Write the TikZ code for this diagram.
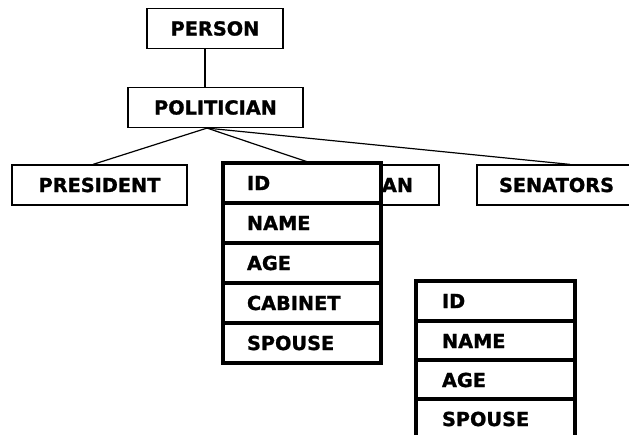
\documentclass[tikz,border=0pt]{standalone}
\usepackage{fontspec}
\setmainfont{DejaVu Sans}[BoldFeatures={FakeBold=1.2}]
\begin{document}
\begin{tikzpicture}[x=1pt,y=-1pt,
  every node/.style={font=\fontsize{19.3}{20}\selectfont\bfseries, text=black},
  classbox/.style={draw, line width=1.2pt, inner sep=0pt, minimum height=40pt},
  link/.style={line width=1.2pt},
  row/.style={draw, fill=white, line width=3.2pt, inner ysep=0pt,
              minimum height=40pt, align=left},
  rowA/.style={row, text width=110pt, inner xsep=24pt},
  rowB/.style={row, text width=107pt, inner xsep=26pt}]
\useasboundingbox (0,0) rectangle (629,435);

% class hierarchy
\node[classbox, minimum width=136pt] (person) at (215,28.5) {PERSON};
\node[classbox, minimum width=175pt] (pol) at (215.5,107.5) {POLITICIAN};
\node[classbox, minimum width=175pt] (pres) at (99.5,185) {PRESIDENT};
\node[classbox, text width=162pt, inner xsep=26pt, align=right] (cong) at (332,185) {AN};
\node[classbox, text width=142pt, inner xsep=22pt, align=left] (sen) at (570,185) {SENATORS};

\draw[link] ([xshift=-10pt]person.south) -- ([xshift=-10.5pt]pol.north);
\draw[link] ([xshift=-8.5pt]pol.south) -- ([xshift=-6.5pt]pres.north);
\draw[link] ([xshift=-8.5pt]pol.south) -- ([xshift=-17pt]cong.north);
\draw[link] ([xshift=-8.5pt]pol.south) -- (sen.north);

% record of a president
\node[rowA] (a1) at (302,183) {ID};
\node[rowA] (a2) at (302,223) {NAME};
\node[rowA] (a3) at (302,263) {AGE};
\node[rowA] (a4) at (302,303) {CABINET};
\node[rowA] (a5) at (302,343) {SPOUSE};

% record of a senator
\node[rowB] (b1) at (495.5,301) {ID};
\node[rowB] (b2) at (495.5,341) {NAME};
\node[rowB] (b3) at (495.5,380) {AGE};
\node[rowB] (b4) at (495.5,419) {SPOUSE};
\end{tikzpicture}
\end{document}
